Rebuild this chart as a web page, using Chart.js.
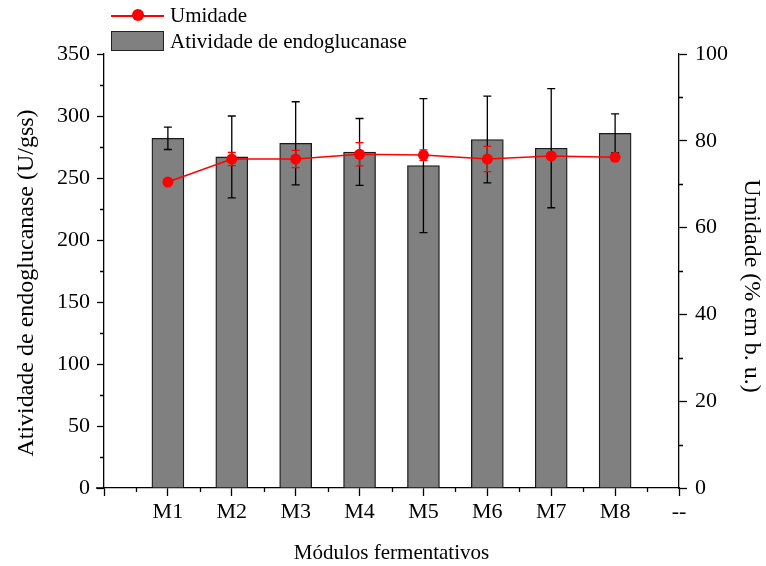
<!DOCTYPE html>
<html>
<head>
<meta charset="utf-8">
<script src="https://cdn.jsdelivr.net/npm/chart.js@4.4.1/dist/chart.umd.min.js"></script>
<style>
  html, body { margin: 0; padding: 0; background: #fff; }
  #wrap { position: relative; width: 766px; height: 566px; }
  #chart { position: absolute; left: 0; top: 0; }
  .legend-item {
    position: absolute;
    left: 111px;
    height: 21px;
    font-family: "Liberation Serif", "Times New Roman", serif;
    font-size: 21px;
    line-height: 21px;
    color: #000;
    white-space: nowrap;
  }
  .legend-item .txt { position: absolute; left: 59px; top: 0; }
  .legend-line { position: absolute; left: 0; top: 10px; width: 53px; height: 1.5px; background: #ff0000; }
  .legend-dot { position: absolute; left: 21px; top: 4px; width: 12px; height: 12px; border-radius: 50%; background: #ff0000; }
  .legend-box { position: absolute; left: 0; top: 0; width: 51px; height: 18px; background: #808080; border: 1px solid #222; }
</style>
</head>
<body>
<div id="wrap">
  <canvas id="chart" width="766" height="566"></canvas>
  <div class="legend-item" style="top:5px;">
    <div class="legend-line"></div><div class="legend-dot"></div>
    <span class="txt">Umidade</span>
  </div>
  <div class="legend-item" style="top:31px;">
    <div class="legend-box"></div>
    <span class="txt">Atividade de endoglucanase</span>
  </div>
</div>
<script>
// categories (first and last slots are the empty axis ends)
const modulos = ["M1", "M2", "M3", "M4", "M5", "M6", "M7", "M8"];
const categorias = ["", ...modulos, "--"];

// endoglucanase activity (U/gss) and its error
const atividade = [282, 267, 278, 271, 260, 281, 274, 286];
const atividadeErro = [9, 33, 33.5, 27, 54, 35, 48, 15.7];

// moisture (% em b. u.) and its error
const umidade = [70.5, 75.8, 75.8, 76.9, 76.7, 75.8, 76.5, 76.2];
const umidadeErro = [0, 1.5, 2, 2.7, 1.2, 2.9, 0, 0];

const leftTicks = [0, 50, 100, 150, 200, 250, 300, 350];
const rightTicks = [0, 20, 40, 60, 80, 100];

const tituloEsq = "Atividade de endoglucanase (U/gss)";
const tituloDir = "Umidade (% em b. u.)";

const pad = (arr) => [null, ...arr, null];

const serif = '"Liberation Serif", "Times New Roman", serif';

const errorBars = {
  id: "errorBars",
  afterDatasetDraw(chart, args) {
    const ds = chart.data.datasets[args.index];
    if (!ds.errors) return;
    const ctx = chart.ctx;
    const yScale = chart.scales[args.meta.yAxisID];
    ctx.save();
    ctx.strokeStyle = ds.errorColor;
    ctx.lineWidth = 1.3;
    args.meta.data.forEach((el, i) => {
      const v = ds.data[i];
      const e = ds.errors[i];
      if (v == null || !e) return;
      const x = el.x;
      const top = yScale.getPixelForValue(v + e);
      const bot = yScale.getPixelForValue(v - e);
      ctx.beginPath();
      ctx.moveTo(x, top); ctx.lineTo(x, bot);
      ctx.moveTo(x - 4, top); ctx.lineTo(x + 4, top);
      ctx.moveTo(x - 4, bot); ctx.lineTo(x + 4, bot);
      ctx.stroke();
    });
    ctx.restore();
  }
};

const minorTicks = {
  id: "minorTicks",
  afterDraw(chart) {
    const ctx = chart.ctx;
    const { x, y, y1 } = chart.scales;
    ctx.save();
    ctx.strokeStyle = "#000";
    ctx.lineWidth = 1.3;
    ctx.beginPath();
    for (let v = 25; v < 350; v += 50) {
      const p = Math.round(y.getPixelForValue(v)) + 0.5;
      ctx.moveTo(y.right - 4, p); ctx.lineTo(y.right, p);
    }
    for (let v = 10; v < 100; v += 20) {
      const p = Math.round(y1.getPixelForValue(v)) + 0.5;
      ctx.moveTo(y1.left, p); ctx.lineTo(y1.left + 4, p);
    }
    for (let i = 0; i < categorias.length - 1; i++) {
      const p = Math.round(x.getPixelForValue(i + 0.5)) + 0.5;
      ctx.moveTo(p, x.top); ctx.lineTo(p, x.top + 4);
    }
    // bottom axis line runs a little past the left axis
    ctx.moveTo(y.right - 8, x.top); ctx.lineTo(y.right, x.top);
    ctx.stroke();
    ctx.restore();
  }
};

// side titles sit a bit below the axis middle in the original
const sideTitles = {
  id: "sideTitles",
  afterDraw(chart) {
    const ctx = chart.ctx;
    const mid = (chart.chartArea.top + chart.chartArea.bottom) / 2;
    ctx.save();
    ctx.fillStyle = "#000";
    ctx.font = "24px " + serif;
    ctx.textAlign = "center";
    ctx.textBaseline = "middle";
    ctx.translate(27, mid + 12);
    ctx.rotate(-Math.PI / 2);
    ctx.fillText(tituloEsq, 0, 0);
    ctx.restore();
    ctx.save();
    ctx.fillStyle = "#000";
    ctx.font = "24px " + serif;
    ctx.textAlign = "center";
    ctx.textBaseline = "middle";
    ctx.translate(751, mid + 15);
    ctx.rotate(Math.PI / 2);
    ctx.fillText(tituloDir, 0, 0);
    ctx.restore();
  }
};

new Chart(document.getElementById("chart"), {
  type: "bar",
  data: {
    labels: categorias,
    datasets: [
      {
        type: "line",
        label: "Umidade",
        data: pad(umidade),
        errors: pad(umidadeErro),
        errorColor: "#ff0000",
        yAxisID: "y1",
        borderColor: "#ff0000",
        backgroundColor: "#ff0000",
        borderWidth: 1.5,
        pointRadius: 5.5,
        pointBorderWidth: 0,
        tension: 0,
        order: 0,
      },
      {
        type: "bar",
        label: "Atividade de endoglucanase",
        data: pad(atividade),
        errors: pad(atividadeErro),
        errorColor: "#000",
        yAxisID: "y",
        backgroundColor: "#808080",
        borderColor: "#1a1a1a",
        borderWidth: 1.3,
        barThickness: 32,
        order: 1,
      },
    ],
  },
  options: {
    responsive: false,
    animation: false,
    layout: { padding: { top: 54, left: 0, right: 0, bottom: 0 } },
    plugins: { legend: { display: false }, tooltip: { enabled: false } },
    scales: {
      x: {
        type: "category",
        offset: false,
        afterFit: (s) => { s.height = 78; },
        grid: { offset: false, drawOnChartArea: false, tickLength: 8, tickColor: "#000", tickWidth: 1.3 },
        border: { color: "#000", width: 1.3 },
        ticks: { color: "#000", font: { family: serif, size: 22 }, padding: 3, autoSkip: false, maxRotation: 0 },
        title: {
          display: true,
          text: "Módulos fermentativos",
          color: "#000",
          font: { family: serif, size: 21 },
          padding: { top: 9, bottom: 0 },
        },
      },
      y: {
        position: "left",
        min: 0,
        max: 350,
        afterFit: (s) => { s.width = 104; },
        afterBuildTicks: (s) => { s.ticks = leftTicks.map((v) => ({ value: v })); },
        grid: { drawOnChartArea: false, tickLength: 7, tickColor: "#000", tickWidth: 1.3 },
        border: { color: "#000", width: 1.3 },
        ticks: { color: "#000", font: { family: serif, size: 22 }, padding: 7 },
      },
      y1: {
        position: "right",
        min: 0,
        max: 100,
        afterFit: (s) => { s.width = 87; },
        afterBuildTicks: (s) => { s.ticks = rightTicks.map((v) => ({ value: v })); },
        grid: { drawOnChartArea: false, tickLength: 8, tickColor: "#000", tickWidth: 1.3 },
        border: { color: "#000", width: 1.3 },
        ticks: { color: "#000", font: { family: serif, size: 22 }, padding: 8 },
      },
    },
  },
  plugins: [errorBars, minorTicks, sideTitles],
});
</script>
</body>
</html>
